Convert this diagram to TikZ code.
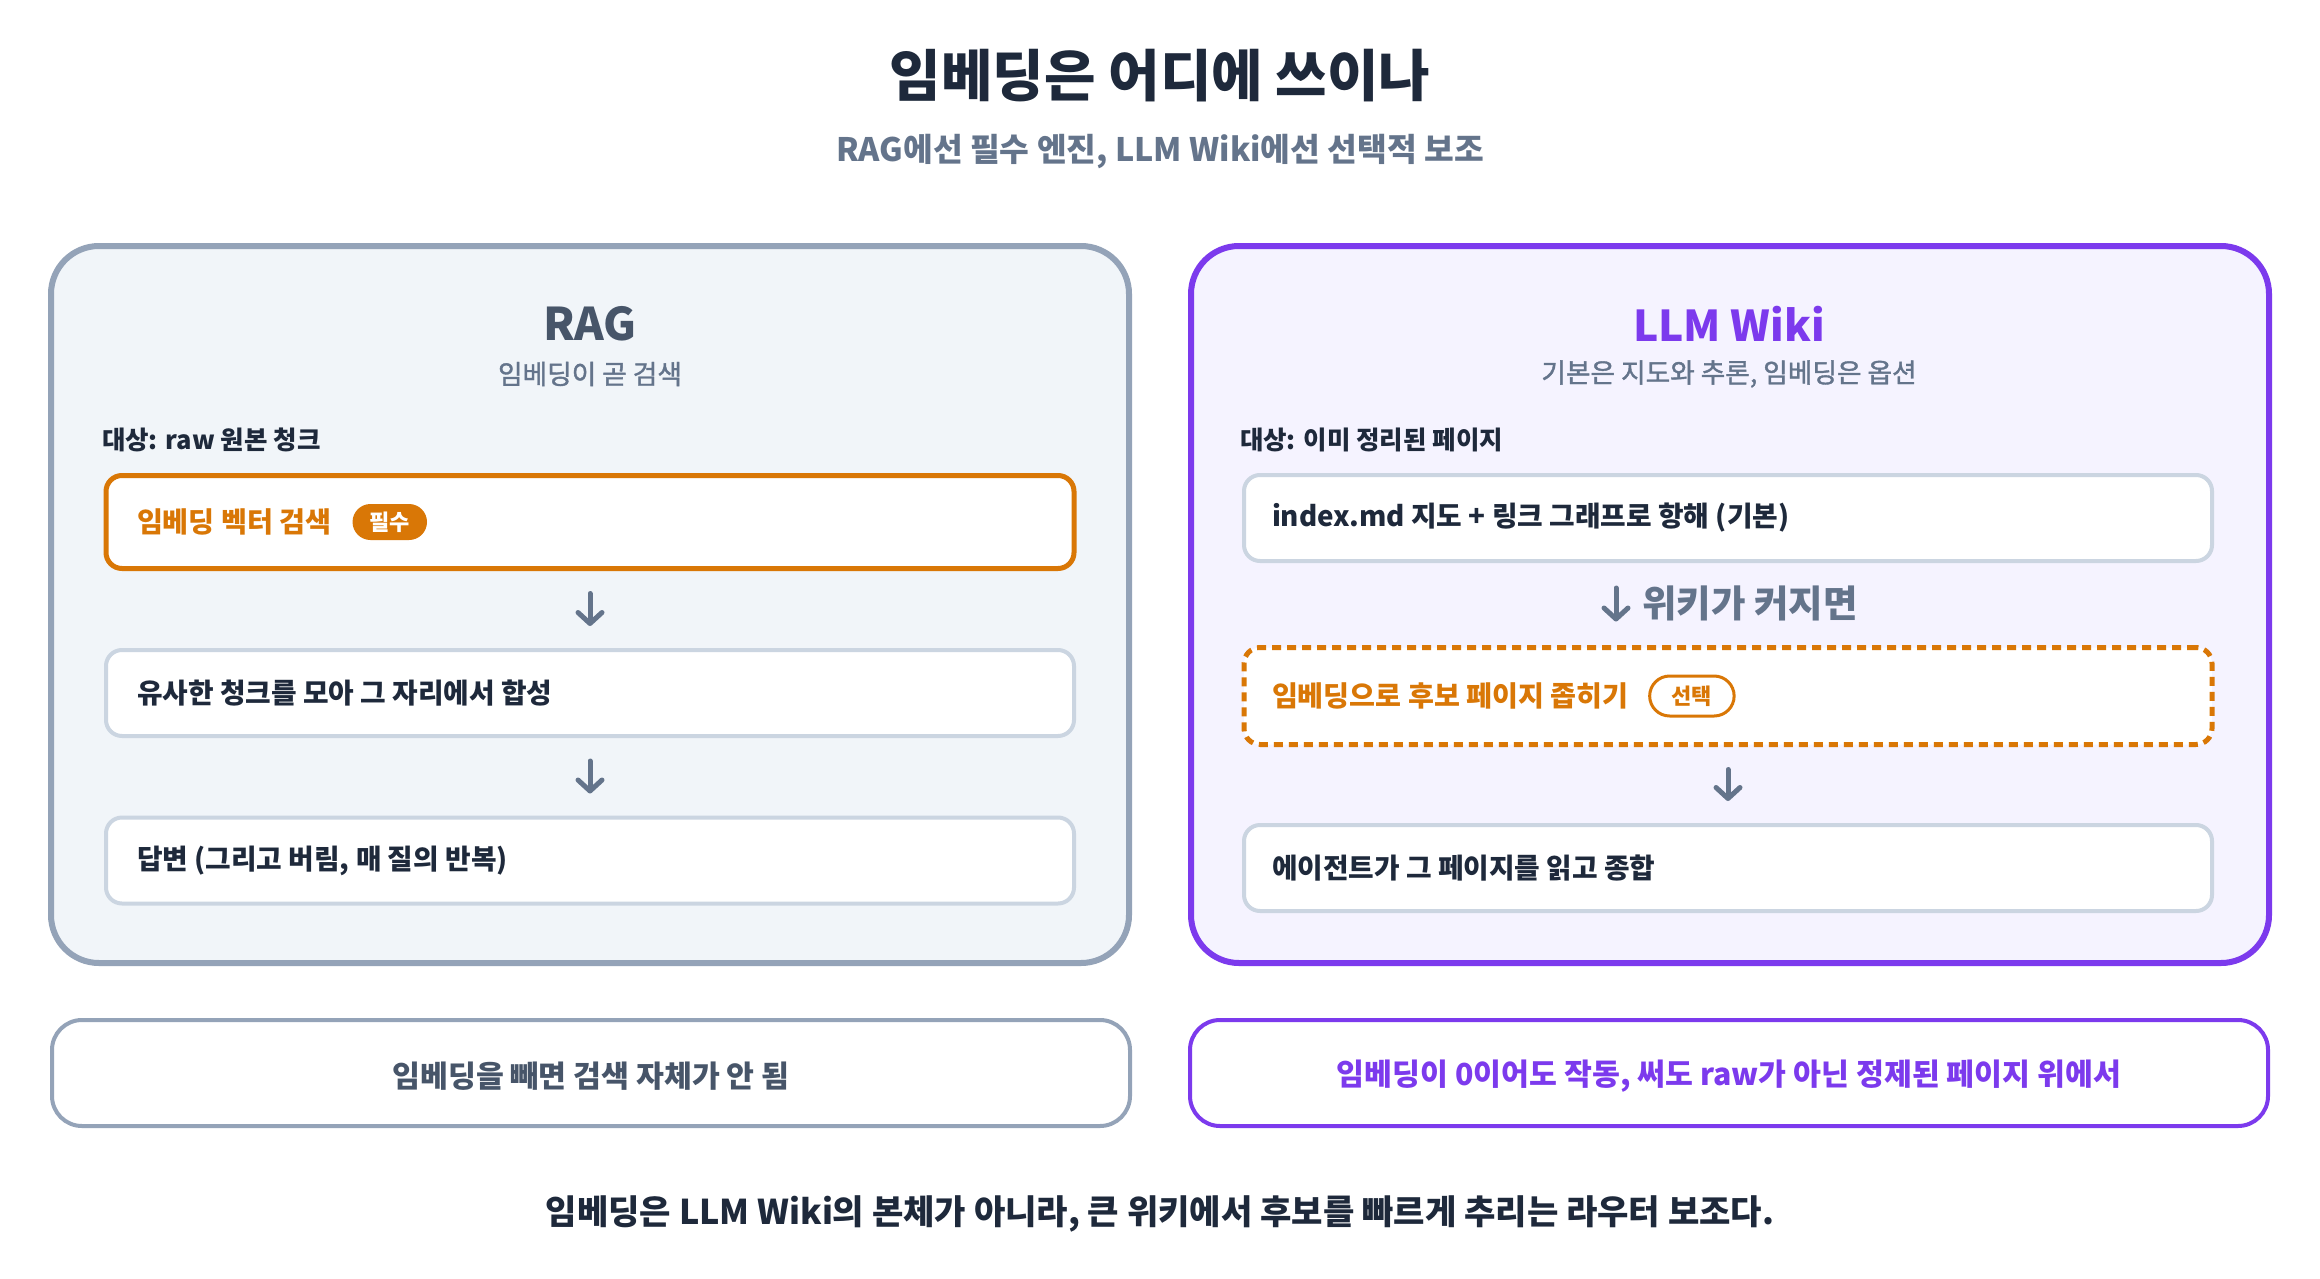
\documentclass[tikz,border=0pt]{standalone}
\usepackage{fontspec}
\setmainfont{Noto Sans CJK KR}
\newfontfamily\krmed{Noto Sans CJK KR}[FakeBold=1.4]
\usetikzlibrary{arrows.meta,positioning}
\definecolor{ink}{HTML}{1E293B}
\definecolor{slate}{HTML}{64748B}
\definecolor{slatedk}{HTML}{475569}
\definecolor{slateline}{HTML}{94A3B8}
\definecolor{slatefill}{HTML}{F1F5F9}
\definecolor{boxline}{HTML}{CBD5E1}
\definecolor{purp}{HTML}{7C3AED}
\definecolor{purpfill}{HTML}{F5F3FF}
\definecolor{orng}{HTML}{D97706}
\newcommand{\fsz}[1]{\fontsize{#1}{#1}\selectfont}
\begin{document}
\begin{tikzpicture}[x=1pt,y=-1pt,
  every node/.style={inner sep=0pt, outer sep=0pt},
  panel/.style={line width=6pt, rounded corners=48pt, minimum width=1078pt, minimum height=717pt},
  ibox/.style={draw=boxline, fill=white, line width=4pt, rounded corners=16pt, minimum width=968pt, minimum height=86pt},
  btxt/.style={anchor=west, text=ink, font=\fsz{27.8}\bfseries},
  lbl/.style={anchor=west, text=ink, font=\fsz{25.5}\bfseries},
  sub/.style={text=slate, font=\fsz{26.7}\krmed},
  flow/.style={draw=slate, line width=5pt, line cap=round, shorten <=25pt, shorten >=24pt,
    -{Straight Barb[round, length=11pt, width=24pt]}},
  note/.style={fill=white, line width=4pt, rounded corners=30pt, minimum width=1078pt, minimum height=106pt},
  notetxt/.style={font=\fsz{30.3}\bfseries}
]
\useasboundingbox[fill=white] (0,0) rectangle (2320,1279);

% title
\node[text=ink, font=\fsz{56}\bfseries] (title) at (1160,76) {임베딩은 어디에 쓰이나};
\node[text=slate, font=\fsz{32.3}\bfseries] (subtitle) at (1160,152) {RAG에선 필수 엔진, LLM Wiki에선 선택적 보조};

% panels
\node[panel, draw=slateline, fill=slatefill] (lp) at (590,604.5) {};
\node[panel, draw=purp, fill=purpfill] (rp) at (1730,604.5) {};

% left panel content
\node[text=slatedk, font=\fsz{45}\bfseries] (ragh) at (590,324) {RAG};
\node[sub] (ragsub) at (590,374) {임베딩이 곧 검색};
\node[lbl] (raglbl) at (102,440) {대상: raw 원본 청크};

\node[ibox, draw=orng, line width=5pt, minimum height=93pt] (b1) at (590,522) {};
\node[btxt, text=orng, font=\fsz{28.2}\bfseries] (t1) at (137,522) {임베딩 벡터 검색};
\node[right=21pt of t1, anchor=west, fill=orng, text=white, font=\fsz{22}\bfseries,
      rounded corners=18pt, minimum height=36pt, inner xsep=17pt] (must) {필수};

\node[ibox] (b2) at (590,693) {};
\node[btxt] (t2) at (137,693) {유사한 청크를 모아 그 자리에서 합성};

\node[ibox] (b3) at (590,860.5) {};
\node[btxt] (t3) at (137,860.5) {답변 (그리고 버림, 매 질의 반복)};

\draw[flow] (b1) -- (b2);
\draw[flow] (b2) -- (b3);

% right panel content
\node[text=purp, font=\fsz{42.5}\bfseries] (wikih) at (1729,324) {LLM Wiki};
\node[sub] (wikisub) at (1729,374) {기본은 지도와 추론, 임베딩은 옵션};
\node[lbl] (wikilbl) at (1240,440) {대상: 이미 정리된 페이지};

\node[ibox] (r1) at (1728,518) {};
\node[btxt] (u1) at (1272,518) {index.md 지도 + 링크 그래프로 항해 (기본)};

\node[ibox, draw=orng, line width=5pt, dash pattern=on 9pt off 6pt, minimum height=97pt] (r2) at (1728,696) {};
\node[btxt, text=orng, font=\fsz{28.2}\bfseries] (u2) at (1272,696) {임베딩으로 후보 페이지 좁히기};
\node[right=21pt of u2, anchor=west, draw=orng, line width=3pt, fill=white, text=orng, font=\fsz{22}\bfseries,
      rounded corners=20pt, minimum height=40pt, inner xsep=22pt] (opt) {선택};

\node[text=slate, font=\fsz{37.5}\bfseries, anchor=west] (grow) at (1642,603) {위키가 커지면};
\draw[flow, shorten <=27pt, shorten >=26pt] ([xshift=-112pt]r1.south) -- ([xshift=-112pt]r2.north);

\node[ibox] (r3) at (1728,868) {};
\node[btxt] (u3) at (1272,868) {에이전트가 그 페이지를 읽고 종합};

\draw[flow] (r2) -- (r3);

% notes
\node[note, draw=slateline] (ln) at (591,1073) {};
\node[notetxt, text=slatedk] (lnt) at (591,1076) {임베딩을 빼면 검색 자체가 안 됨};
\node[note, draw=purp] (rn) at (1729,1073) {};
\node[notetxt, text=purp] (rnt) at (1729,1076) {임베딩이 0이어도 작동, 써도 raw가 아닌 정제된 페이지 위에서};

% footer
\node[text=ink, font=\fsz{34.1}\bfseries] (foot) at (1160,1214) {임베딩은 LLM Wiki의 본체가 아니라, 큰 위키에서 후보를 빠르게 추리는 라우터 보조다.};
\end{tikzpicture}
\end{document}
